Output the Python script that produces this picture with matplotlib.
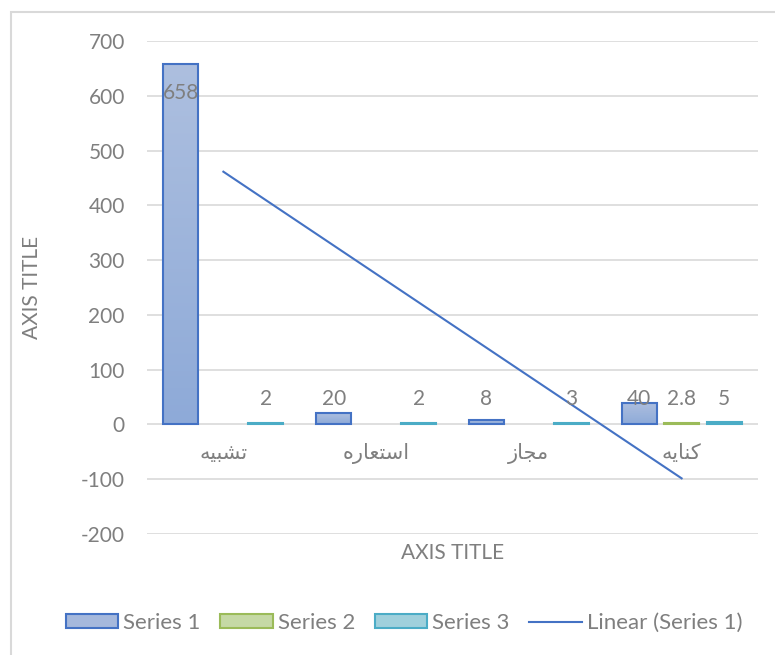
import numpy as np
import matplotlib
matplotlib.use("Agg")
import matplotlib.pyplot as plt
from matplotlib.colors import LinearSegmentedColormap
from matplotlib.patches import Patch, Rectangle
from matplotlib.lines import Line2D

plt.rcParams['font.family'] = ['Lato', 'DejaVu Sans']
plt.rcParams['axes.unicode_minus'] = False

# chart data
categories = ["تشبیه", "استعاره", "مجاز", "کنایه"]
series1 = [658, 20, 8, 40]
series2 = [np.nan, np.nan, np.nan, 2.8]
series3 = [2, 2, 3, 5]
series_names = ["Series 1", "Series 2", "Series 3"]
yticks = list(range(-200, 701, 100))

# minimal Arabic shaping (matplotlib has no RTL / joining support)
FORMS = {
    "ا": (0xFE8D, 0xFE8E, None, None),
    "ب": (0xFE8F, 0xFE90, 0xFE91, 0xFE92),
    "ت": (0xFE95, 0xFE96, 0xFE97, 0xFE98),
    "ج": (0xFE9D, 0xFE9E, 0xFE9F, 0xFEA0),
    "ر": (0xFEAD, 0xFEAE, None, None),
    "ز": (0xFEAF, 0xFEB0, None, None),
    "س": (0xFEB1, 0xFEB2, 0xFEB3, 0xFEB4),
    "ش": (0xFEB5, 0xFEB6, 0xFEB7, 0xFEB8),
    "ع": (0xFEC9, 0xFECA, 0xFECB, 0xFECC),
    "م": (0xFEE1, 0xFEE2, 0xFEE3, 0xFEE4),
    "ن": (0xFEE5, 0xFEE6, 0xFEE7, 0xFEE8),
    "ه": (0xFEE9, 0xFEEA, 0xFEEB, 0xFEEC),
    "ی": (0xFBFC, 0xFBFD, 0xFBFE, 0xFBFF),
    "ک": (0xFB8E, 0xFB8F, 0xFB90, 0xFB91),
}


def shape(word):
    out = []
    for i, ch in enumerate(word):
        if ch not in FORMS:
            out.append(ch)
            continue
        iso, fin, ini, med = FORMS[ch]
        prev = word[i - 1] if i > 0 else None
        nxt = word[i + 1] if i + 1 < len(word) else None
        join_prev = prev in FORMS and FORMS[prev][2] is not None
        join_next = ini is not None and nxt in FORMS
        if join_prev and join_next:
            code = med
        elif join_prev:
            code = fin
        elif join_next:
            code = ini
        else:
            code = iso
        out.append(chr(code))
    return "".join(reversed(out))


gray = "#7f7f7f"
grid_c = "#d9d9d9"
fs = 15

fig = plt.figure(figsize=(7.75, 6.55), dpi=100)
ax = fig.add_axes([147 / 775, 121 / 655, 611 / 775, 493 / 655])

x = np.arange(len(categories))
width = 0.23
step = 0.278

bars1 = ax.bar(x - step, series1, width, facecolor="none",
               edgecolor="#4472c4", linewidth=1.5, zorder=3)
bars2 = ax.bar(x, series2, width, facecolor="#c5d9a5",
               edgecolor="#9bbb59", linewidth=1.5, zorder=3)
bars3 = ax.bar(x + step, series3, width, facecolor="#9fd0dc",
               edgecolor="#4bacc6", linewidth=1.5, zorder=3)

# gradient fill for series 1
cmap = LinearSegmentedColormap.from_list("s1", ["#8eaad8", "#adbfdf"])
grad = np.linspace(0, 1, 128).reshape(-1, 1)
for b in bars1:
    x0, w, h = b.get_x(), b.get_width(), b.get_height()
    im = ax.imshow(grad, cmap=cmap, extent=(x0, x0 + w, 0, h),
                   origin="lower", aspect="auto", zorder=2)
    im.set_clip_path(b)

# linear trendline of series 1
coef = np.polyfit(x, series1, 1)
ax.plot(x, np.polyval(coef, x), color="#4472c4", linewidth=1.5, zorder=4)

# data labels
for bars, vals in [(bars1, series1), (bars2, series2), (bars3, series3)]:
    for b, v in zip(bars, vals):
        if np.isnan(v):
            continue
        cx = b.get_x() + b.get_width() / 2
        if v > 600:
            ax.annotate(f"{v:g}", (cx, v), xytext=(0, -21), textcoords="offset points",
                        ha="center", va="center", color=gray, fontsize=fs, zorder=5)
        else:
            ax.annotate(f"{v:g}", (cx, 0), xytext=(0, 18), textcoords="offset points",
                        ha="center", va="center", color=gray, fontsize=fs, zorder=5)

ax.set_xlim(-0.5, len(categories) - 0.5)
ax.set_ylim(-200, 700)
ax.set_yticks(yticks)
ax.set_xticks(x)
ax.set_xticklabels([shape(c) for c in categories])
ax.grid(axis="y", color=grid_c, linewidth=1.2, zorder=0)
ax.set_axisbelow(True)
for s in ax.spines.values():
    s.set_visible(False)
ax.spines["bottom"].set_position(("data", 0))
ax.tick_params(axis="y", length=0, pad=16, labelsize=fs, labelcolor=gray)
ax.tick_params(axis="x", length=0, pad=13, labelsize=fs, labelcolor=gray)

ax.set_xlabel("AXIS TITLE", fontsize=fs, color=gray)
ax.xaxis.set_label_coords(0.5, -0.018)
ax.set_ylabel("AXIS TITLE", fontsize=fs, color=gray)
ax.yaxis.set_label_coords(-0.172, 0.5)

handles = [
    Patch(facecolor="#a5b8dc", edgecolor="#4472c4", linewidth=1.5),
    Patch(facecolor="#c5d9a5", edgecolor="#9bbb59", linewidth=1.5),
    Patch(facecolor="#9fd0dc", edgecolor="#4bacc6", linewidth=1.5),
    Line2D([], [], color="#4472c4", linewidth=1.5),
]
labels = series_names + ["Linear (Series 1)"]
leg = fig.legend(handles, labels, loc="center", bbox_to_anchor=(404 / 775, 1 - 623 / 655),
                 ncol=4, frameon=False, fontsize=16, handlelength=2.35, handleheight=0.6,
                 handletextpad=0.22, columnspacing=0.9)
for t in leg.get_texts():
    t.set_color(gray)

# chart outer border
fig.add_artist(Rectangle((11 / 775, -0.05), 1.2, 1 - 12 / 655 + 0.05,
                         transform=fig.transFigure, fill=False,
                         edgecolor=grid_c, linewidth=1.5))

fig.savefig("out.png", dpi=100)
